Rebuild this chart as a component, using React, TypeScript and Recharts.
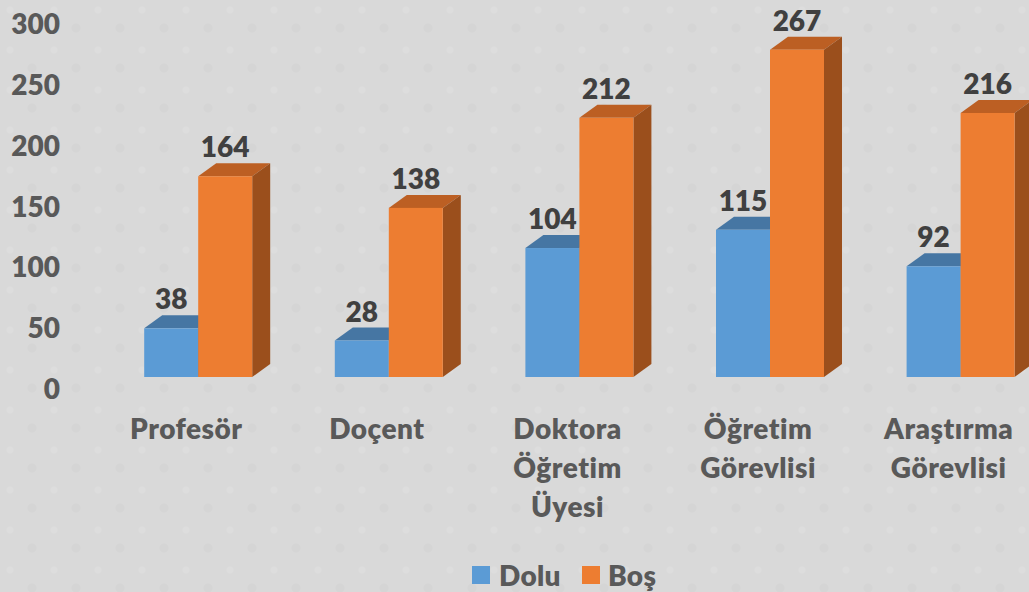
import React from 'react';
import { BarChart, Bar, XAxis, YAxis, Legend, LabelList } from 'recharts';

const categories = ['Profesör', 'Doçent', 'Doktora Öğretim Üyesi', 'Öğretim Görevlisi', 'Araştırma Görevlisi'];
// bar heights as drawn; the printed labels differ a little from them in the source chart
const doluHeights = [40, 30, 106, 121, 91];
const bosHeights = [165, 139, 213, 269, 217];
const doluLabels = [38, 28, 104, 115, 92];
const bosLabels = [164, 138, 212, 267, 216];
const yTicks = [0, 50, 100, 150, 200, 250, 300];

const chartData = categories.map((name, i) => ({
  name,
  dolu: doluHeights[i],
  bos: bosHeights[i],
  doluLabel: doluLabels[i],
  bosLabel: bosLabels[i],
}));

const FONT = 'Lato, sans-serif';
const DEPTH_X = 18;
const DEPTH_Y = 13;

const Bar3D = (props: any) => {
  const { x, y, width, height, fill, topFill, sideFill } = props;
  const r = x + width;
  const b = y + height;
  return (
    <g>
      <polygon points={`${x},${y} ${x + DEPTH_X},${y - DEPTH_Y} ${r + DEPTH_X},${y - DEPTH_Y} ${r},${y}`} fill={topFill} />
      <polygon points={`${r},${y} ${r + DEPTH_X},${y - DEPTH_Y} ${r + DEPTH_X},${b - DEPTH_Y} ${r},${b}`} fill={sideFill} />
      <rect x={x} y={y} width={width} height={height} fill={fill} />
    </g>
  );
};

const CategoryTick = (props: any) => {
  const { x, y, payload } = props;
  const lines: string[] = String(payload.value).split(' ');
  return (
    <g>
      {lines.map((line, i) => (
        <text
          key={line}
          x={x - 12}
          y={y + 54 + i * 39}
          textAnchor="middle"
          fill="#595959"
          fontFamily={FONT}
          fontSize={28}
          fontWeight={800}
          letterSpacing={0.5}
        >
          {line}
        </text>
      ))}
    </g>
  );
};

const ValueTick = (props: any) => {
  const { x, y, payload } = props;
  return (
    <text x={x} y={y + 22} textAnchor="end" fill="#595959" fontFamily={FONT} fontSize={28} fontWeight={800}>
      {payload.value}
    </text>
  );
};

const LegendContent = () => (
  <div style={{ position: 'relative', width: 200, height: 30, fontFamily: FONT, fontSize: 28, fontWeight: 800, letterSpacing: 0.3, color: '#595959' }}>
    <span style={{ position: 'absolute', left: 0, top: 6, width: 18, height: 18, background: '#5B9BD5' }} />
    <span style={{ position: 'absolute', left: 27, top: -1, lineHeight: '32px' }}>Dolu</span>
    <span style={{ position: 'absolute', left: 110, top: 6, width: 18, height: 18, background: '#ED7D31' }} />
    <span style={{ position: 'absolute', left: 136, top: -1, lineHeight: '32px' }}>Boş</span>
  </div>
);

export default function App() {
  return (
    <div
      style={{
        position: 'absolute',
        left: 0,
        top: 0,
        width: 1029,
        height: 592,
        overflow: 'hidden',
        backgroundColor: '#d9d9d9',
        backgroundImage:
          'radial-gradient(circle at 10px 10px, rgba(255,255,255,0.1) 0 3px, transparent 4px), radial-gradient(circle at 32px 28px, rgba(0,0,0,0.02) 0 4px, transparent 5px)',
        backgroundSize: '44px 40px',
      }}
    >
      <BarChart
        width={1056}
        height={592}
        data={chartData}
        margin={{ top: 12, right: 0, bottom: 0, left: 0 }}
        barCategoryGap={41.2}
        barGap={0}
      >
        <XAxis
          dataKey="name"
          axisLine={false}
          tickLine={false}
          height={215}
          interval={0}
          tick={<CategoryTick />}
        />
        <YAxis
          domain={[0, 300]}
          ticks={yTicks}
          width={103}
          axisLine={false}
          tickLine={false}
          tickMargin={37}
          tick={<ValueTick />}
        />
        <Legend
          verticalAlign="middle"
          layout="horizontal"
          content={<LegendContent />}
          wrapperStyle={{ position: 'absolute', left: 472, top: 560, width: 200, height: 30 }}
        />
        <Bar
          dataKey="dolu"
          name="Dolu"
          fill="#5B9BD5"
          isAnimationActive={false}
          shape={<Bar3D topFill="#4676A3" sideFill="#3F6A93" />}
        >
          <LabelList dataKey="doluLabel" position="top" offset={19} fill="#404040" fontFamily={FONT} fontSize={28} fontWeight={800} />
        </Bar>
        <Bar
          dataKey="bos"
          name="Boş"
          fill="#ED7D31"
          isAnimationActive={false}
          shape={<Bar3D topFill="#BC5F23" sideFill="#9B4F1C" />}
        >
          <LabelList dataKey="bosLabel" position="top" offset={19} fill="#404040" fontFamily={FONT} fontSize={28} fontWeight={800} />
        </Bar>
      </BarChart>
    </div>
  );
}
